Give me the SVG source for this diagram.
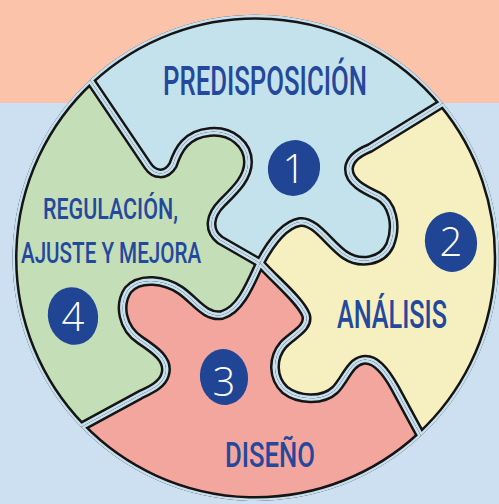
<svg xmlns="http://www.w3.org/2000/svg" xmlns:xlink="http://www.w3.org/1999/xlink" width="499" height="504" viewBox="0 0 499 504">
<style>
.edge{fill:none;stroke:#151515;stroke-width:10;stroke-linejoin:round}
.halo{fill:none;stroke:#c7e0ef;stroke-width:5;stroke-linejoin:round}
.lbl{font-family:Roboto,"Liberation Sans",sans-serif;font-weight:500;fill:#24489c}
.blob{fill:#1f4594}
.num{font-family:"Open Sans","Liberation Sans",sans-serif;font-weight:300;fill:#ffffff;text-anchor:middle}
</style>
<defs>
<path id="p1" d="M90,80 A243,243 0 0 1 443,103 L370,148 C360,152 350,158 349,168 C348,182 365,190 378,196 C392,203 398,225 390,245 C382,262 360,265 345,255 C330,245 315,220 300,222 C282,225 268,248 260,263 L220,240 C207,230 210,215 222,203 C235,190 248,178 248,162 C248,145 232,130 210,132 C186,134 178,150 173,165 C166,177 154,175 148,166 L90,80 Z"/>
<path id="p2" d="M443,103 A243,243 0 0 1 421,436 L395,388 C385,370 375,358 363,360 C350,362 345,380 335,390 C322,402 298,400 285,390 C272,378 272,358 283,345 C292,335 310,328 306,315 C300,300 275,280 260,263 C268,248 282,225 300,222 C315,220 330,245 345,255 C360,265 382,262 390,245 C398,225 392,203 378,196 C365,190 348,182 349,168 C350,158 360,152 370,148 L443,103 Z"/>
<path id="p3" d="M421,436 A243,243 0 0 1 81,427 L140,395 C150,390 162,385 165,375 C170,360 155,350 140,340 C122,328 118,305 128,290 C140,276 165,280 180,290 C195,300 205,318 222,315 C240,310 250,285 260,263 C275,280 300,300 306,315 C310,328 292,335 283,345 C272,358 272,378 285,390 C298,400 322,402 335,390 C345,380 350,362 363,360 C375,358 385,370 395,388 L421,436 Z"/>
<path id="p4" d="M81,427 A243,243 0 0 1 90,80 L148,166 C154,175 166,177 173,165 C178,150 186,134 210,132 C232,130 248,145 248,162 C248,178 235,190 222,203 C210,215 207,230 220,240 L260,263 C250,285 240,310 222,315 C205,318 195,300 180,290 C165,280 140,276 128,290 C118,305 122,328 140,340 C155,350 170,360 165,375 C162,385 150,390 140,395 L81,427 Z"/>
<clipPath id="c1"><use xlink:href="#p1"/></clipPath>
<clipPath id="c2"><use xlink:href="#p2"/></clipPath>
<clipPath id="c3"><use xlink:href="#p3"/></clipPath>
<clipPath id="c4"><use xlink:href="#p4"/></clipPath>
</defs>
<rect x="0" y="0" width="499" height="504" fill="#cde0f2"/>
<rect x="0" y="0" width="499" height="103" fill="#fac3aa"/>
<g id="piece-1">
<use xlink:href="#p1" fill="#c4e2ec"/>
<g clip-path="url(#c1)"><use xlink:href="#p1" class="edge"/><use xlink:href="#p1" class="halo"/></g>
<text class="lbl" transform="translate(163 95) scale(0.62 1)" font-size="41" textLength="329" lengthAdjust="spacingAndGlyphs">PREDISPOSICIÓN</text>
<ellipse class="blob" cx="294" cy="168" rx="26" ry="28" transform="rotate(15 294 168)"/>
<text class="num" x="294" y="183" font-size="40">1</text>
</g>
<g id="piece-2">
<use xlink:href="#p2" fill="#f6f0c0"/>
<g clip-path="url(#c2)"><use xlink:href="#p2" class="edge"/><use xlink:href="#p2" class="halo"/></g>
<text class="lbl" transform="translate(337 328) scale(0.655 1)" font-size="38" textLength="168" lengthAdjust="spacingAndGlyphs">ANÁLISIS</text>
<ellipse class="blob" cx="451" cy="242" rx="26" ry="30" transform="rotate(-10 451 242)"/>
<text class="num" x="451" y="256" font-size="40">2</text>
</g>
<g id="piece-3">
<use xlink:href="#p3" fill="#f3a69e"/>
<g clip-path="url(#c3)"><use xlink:href="#p3" class="edge"/><use xlink:href="#p3" class="halo"/></g>
<text class="lbl" transform="translate(225 467) scale(0.72 1)" font-size="35" textLength="125" lengthAdjust="spacingAndGlyphs">DISEÑO</text>
<ellipse class="blob" cx="224" cy="377" rx="24" ry="28" transform="rotate(-8 224 377)"/>
<text class="num" x="224" y="396" font-size="40">3</text>
</g>
<g id="piece-4">
<use xlink:href="#p4" fill="#c4deb8"/>
<g clip-path="url(#c4)"><use xlink:href="#p4" class="edge"/><use xlink:href="#p4" class="halo"/></g>
<text class="lbl" transform="translate(43 219) scale(0.708 1)" font-size="30" textLength="190.6" lengthAdjust="spacingAndGlyphs">REGULACIÓN,</text>
<text class="lbl" transform="translate(21 263) scale(0.677 1)" font-size="30" textLength="266" lengthAdjust="spacingAndGlyphs">AJUSTE Y MEJORA</text>
<ellipse class="blob" cx="73" cy="316" rx="25" ry="29" transform="rotate(-12 73 316)"/>
<text class="num" x="73" y="331" font-size="40">4</text>
</g>
<g id="connectors"/>
</svg>
